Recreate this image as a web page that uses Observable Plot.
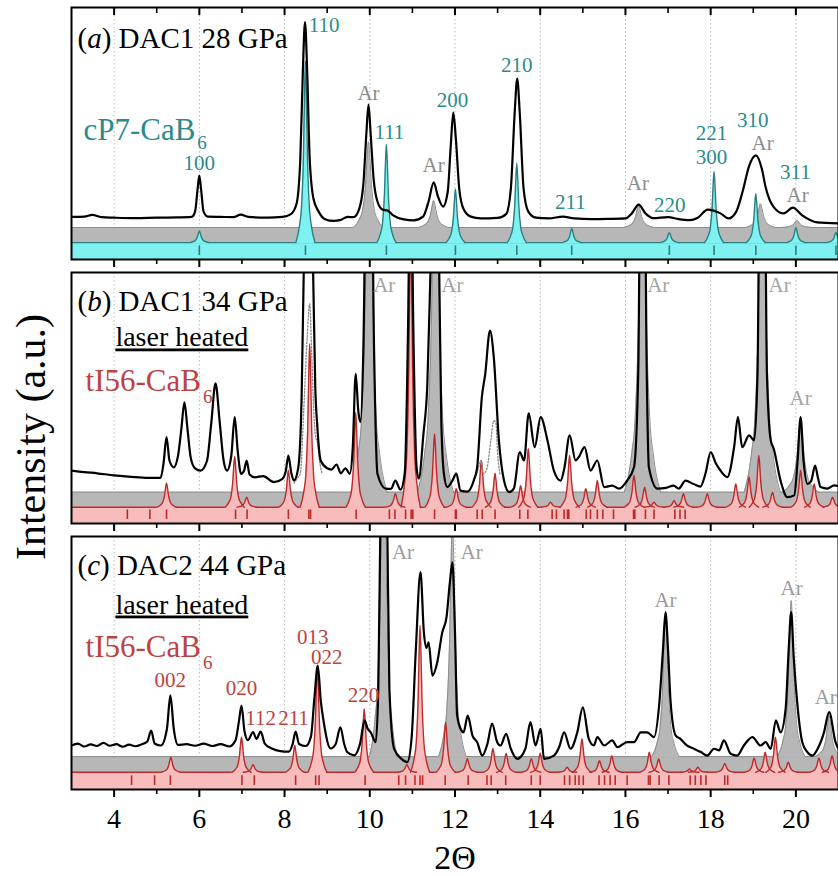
<!DOCTYPE html>
<html>
<head>
<meta charset="utf-8">
<script src="https://cdn.jsdelivr.net/npm/d3@7"></script>
<script src="https://cdn.jsdelivr.net/npm/@observablehq/plot@0.6"></script>
<style>
  html, body { margin: 0; padding: 0; background: #fff; }
  #chart { position: relative; width: 838px; height: 877px; overflow: hidden;
           font-family: "Liberation Serif", "Times New Roman", serif; }
  #chart svg { position: absolute; left: 0; }
  .ylab { position: absolute; left: 31px; top: 437px; width: 420px; text-align: center;
          font-size: 42px; line-height: 1; white-space: nowrap;
          transform: translate(-50%, -50%) rotate(-90deg); }
  .xlab { position: absolute; left: 455px; top: 858px; font-size: 34px; line-height: 1;
          transform: translate(-50%, -50%); white-space: nowrap; }
</style>
</head>
<body>
<div id="chart">
  <div class="ylab">Intensity (a.u.)</div>
  <div class="xlab">2Θ</div>
</div>
<script>
// ---- axis ticks (2Θ, degrees) ----
const majorTicks = [4, 6, 8, 10, 12, 14, 16, 18, 20];
const minorTicks = [5, 7, 9, 11, 13, 15, 17, 19];

// ---- measured patterns: [2Θ, intensity (a.u.)] ----
const observedA = [
  [3.0,16.9],[3.3,17.0],[3.49,17.7],[3.7,16.8],[4.0,16.6],[4.5,16.4],[5.0,16.6],[5.5,16.7],[5.82,16.9],
  [5.9,19],[5.96,28],[6.0,33.3],[6.04,28],[6.1,19],[6.2,17.0],[6.5,16.9],[6.8,16.8],[6.97,17.8],[7.15,16.9],[7.6,16.6],[7.95,16.9],
  [8.15,18],[8.28,22],[8.37,40],[8.43,75],[8.48,94.2],[8.53,75],[8.59,40],[8.68,24],[8.8,19],[8.95,16],[9.15,15.3],[9.3,15.6],[9.48,16.9],[9.62,16.8],
  [9.75,20],[9.85,30],[9.92,50],[9.97,61.5],[10.02,50],[10.09,32],[10.18,23],[10.3,19.8],[10.42,19.4],[10.55,17.5],[10.8,15.9],[11.03,15.5],
  [11.25,17],[11.38,23],[11.5,30.6],[11.6,25],[11.72,21],[11.83,27],[11.9,45],[11.96,58.3],[12.02,48],[12.1,28],[12.2,20],[12.37,17],[12.6,16.3],
  [13.0,16.5],[13.2,18],[13.31,28],[13.4,58],[13.46,71.8],[13.52,58],[13.61,28],[13.72,19],[13.9,16.6],[14.2,16.3],[14.53,17.0],[14.8,16.3],[15.2,16.0],[15.6,16.1],[16.0,16.3],
  [16.15,18.3],[16.31,21.8],[16.47,18.3],[16.65,16.4],[17.0,16.8],[17.25,16.0],[17.5,15.6],[17.7,16.6],[17.93,19.8],[18.23,18.3],[18.42,16.3],
  [18.6,19],[18.75,27],[18.9,37],[19.06,41.3],[19.2,36],[19.29,28.7],[19.48,20.8],[19.71,18.3],[19.93,20.6],[20.15,17.5],[20.5,14.7],[21.0,14.3]
];
const observedB = [
  [3.0,21.1],[3.3,20.5],[3.6,20.0],[4.0,19.2],[4.4,18.6],[4.8,18.2],[5.09,18.2],[5.16,24],[5.23,34.4],[5.3,25],[5.4,22.4],[5.5,27],[5.58,38],[5.65,48.3],[5.72,38],[5.8,26],[5.9,22],[6.03,21.1],
  [6.18,25],[6.28,40],[6.38,55.8],[6.48,40],[6.57,25],[6.65,21.1],[6.75,27],[6.83,42.4],[6.9,29],[6.98,19.8],[7.05,21],[7.11,25.1],[7.18,19.5],[7.3,18.4],[7.5,18.9],[7.75,16.5],[7.95,17.8],
  [8.03,21],[8.09,27.1],[8.16,20],[8.22,17.1],[8.32,22],[8.4,50],[8.46,110],[8.56,160],[8.66,110],[8.72,55],[8.77,38.4],[8.85,25],[9.0,22],[9.1,21.5],[9.22,23.5],[9.32,20],[9.43,22],[9.53,19.8],
  [9.6,30],[9.67,59.6],[9.73,45],[9.78,40.4],[9.85,70],[9.93,160],[10.03,160],[10.1,70],[10.18,19.8],[10.37,13.9],[10.5,13.8],[10.6,17.1],[10.72,13.5],
  [10.82,20],[10.9,80],[10.96,160],[11.02,80],[11.1,22],[11.15,17.9],[11.26,35.8],[11.35,55],[11.44,110],[11.54,160],[11.63,100],[11.68,40],[11.74,19.8],[11.82,14.5],[11.94,17.1],[12.03,19.9],
  [12.13,13.1],[12.29,12.7],[12.44,17.1],[12.52,22.4],[12.63,50.3],[12.71,59.6],[12.82,76.9],[12.91,66.3],[13.03,33.1],[13.15,17.1],[13.27,12.5],[13.38,13.9],[13.52,28.4],[13.62,25.1],[13.73,43.9],
  [13.87,30.4],[14.01,42.4],[14.17,33.1],[14.32,21.1],[14.48,17.1],[14.57,22.4],[14.69,35.1],[14.83,25.1],[14.91,26.6],[15.04,30.4],[15.18,21.1],[15.34,25.1],[15.5,14.5],[15.69,15.1],[15.85,13.9],
  [16.04,17.1],[16.2,22.4],[16.3,60],[16.36,160],[16.44,160],[16.5,60],[16.55,22.4],[16.75,13.9],[16.95,14.2],[17.13,15.1],[17.25,13.9],[17.41,17.1],[17.6,15.7],[17.76,14.7],[17.88,20],[18.0,28.4],
  [18.12,24],[18.23,21.1],[18.39,18.5],[18.55,30.4],[18.64,42.4],[18.74,30.4],[18.9,35.1],[19.02,33.1],[19.1,60],[19.16,160],[19.26,160],[19.32,60],[19.41,33.1],[19.48,29.8],[19.64,17.1],
  [19.8,10.5],[19.96,11.2],[20.04,25],[20.11,42.4],[20.18,25],[20.27,15.8],[20.36,17],[20.45,23.1],[20.52,18],[20.58,14.5],[20.74,13.9],[20.9,15.2],[21.0,14.9]
];
// second measured trace, shown dotted where it departs from the main one
const dottedB1 = [[8.22,16],[8.3,18],[8.37,20],[8.45,45],[8.53,74],[8.59,87.5],[8.64,66],[8.7,40],[8.73,34.4],[8.77,32.4],[8.82,25],[8.88,19.8]];
const dottedB2 = [[12.45,17.5],[12.53,21],[12.61,25.1],[12.67,19.8],[12.75,22],[12.84,33],[12.91,41],[12.96,40],[13.0,28],[13.05,19.8]];
const observedC = [
  [3.0,17.4],[3.15,18.1],[3.3,17.0],[3.45,17.8],[3.6,17.2],[3.75,18.4],[3.9,17.3],[4.05,17.9],[4.2,16.9],[4.35,17.7],[4.5,17.1],[4.65,17.9],[4.78,19],[4.87,23.3],[4.95,18.2],[5.1,17.4],
  [5.24,24],[5.32,37.2],[5.4,24],[5.5,17.6],[5.7,17.9],[5.9,17.3],[6.1,18.1],[6.3,17.2],[6.5,17.9],[6.7,17.0],[6.85,19.5],[6.93,27],[6.99,33.2],[7.06,23],[7.14,19.5],[7.26,22.7],[7.34,20],[7.44,22.9],
  [7.54,18],[7.7,16.2],[7.9,15.2],[8.1,15.0],[8.19,18],[8.26,22.9],[8.34,18],[8.5,17.2],[8.62,21],[8.7,36],[8.78,49],[8.85,35],[8.92,26.6],[9.08,16.2],[9.2,18],[9.31,24.6],[9.4,18],[9.47,14.8],
  [9.63,13.5],[9.77,18],[9.88,27.3],[9.95,24],[10.02,22.7],[10.14,18.7],[10.2,40],[10.26,120],[10.34,160],[10.4,120],[10.46,40],[10.57,16.2],[10.75,12],[10.88,10.8],[10.98,20],[11.08,55],
  [11.19,85.9],[11.27,62],[11.33,56],[11.38,58.2],[11.47,45],[11.58,50],[11.7,62],[11.8,68],[11.88,82],[11.94,89.8],[12.0,62],[12.05,29.2],[12.13,24],[12.2,22.6],[12.3,29.2],[12.41,21.3],
  [12.52,18.7],[12.64,13.4],[12.76,18],[12.87,26],[12.99,18.7],[13.07,17.4],[13.2,22],[13.31,16.1],[13.46,12.1],[13.65,16],[13.77,26.6],[13.89,17.4],[14.01,24],[14.09,12.1],[14.32,13.4],
  [14.45,17],[14.56,22.6],[14.71,16.1],[14.87,22.6],[15.0,32.5],[15.14,20],[15.26,17.4],[15.34,20.7],[15.5,17.4],[15.69,19.4],[15.81,16.7],[16.04,18.7],[16.2,18.7],[16.36,22.6],[16.51,22.6],
  [16.67,20.7],[16.79,33.2],[16.88,55],[16.94,70.1],[17.0,55],[17.06,34.5],[17.18,21.3],[17.29,20],[17.44,17.4],[17.61,16.1],[17.77,14.8],[17.92,13.4],[18.08,16.1],[18.2,15.5],[18.31,19.4],
  [18.47,14.1],[18.62,13.4],[18.78,17.4],[18.98,20.7],[19.17,17.4],[19.29,18.7],[19.41,16.1],[19.53,27.3],[19.64,22.6],[19.76,32],[19.83,55],[19.89,70.1],[19.95,52],[20.03,34.5],[20.15,18.7],
  [20.27,14.8],[20.39,13.4],[20.51,16.1],[20.66,22.6],[20.78,30.6],[20.93,18.7],[21.0,16]
];

// ---- calculated patterns: [2Θ, peak height above its baseline] ----
const cP7PeaksA = [[6.0,4.6],[8.49,72],[10.39,39],[12.01,21.2],[13.45,31.5],[14.74,5.6],[17.03,4],[18.08,28.2],[19.06,19.4],[20.0,6],[20.94,4]];
const argonPeaksA = [[9.97,34],[11.5,10.7],[16.31,8.7],[19.17,9.4],[20.03,2.8]];
const tI56PeaksB = [[5.23,9.6],[6.83,20.2],[7.11,4],[8.09,14.6],[8.59,65],[9.67,37.8],[10.6,5.4],[10.96,110],[11.52,29.3],[12.03,7.4],[12.62,18.6],[12.94,13.4],
  [13.54,8.6],[13.72,23.3],[14.24,2],[14.69,20.6],[15.07,7.4],[15.34,10.6],[16.2,12.6],[16.45,8],[16.67,2],[17.14,2.6],[17.36,5.4],[17.92,5.4],[18.59,9.3],[18.9,12],
  [19.13,20.6],[19.45,6],[20.11,14.6],[20.43,9.3],[20.86,4]];
const argonPeaksB = [[9.98,150],[11.54,150],[16.4,150],[19.21,150],[20.11,28.5]];
const tI56PeaksC = [[5.33,6],[6.99,13.9],[7.26,3],[8.24,10.6],[8.77,42],[9.87,25],[10.87,3],[11.18,58],[11.78,19.8],[12.29,5.4],[12.89,9.4],[13.2,7.4],[13.79,5.4],
  [14.0,7.4],[14.63,2],[14.98,13.2],[15.39,4.6],[15.68,6.6],[16.56,7.9],[16.78,5.3],[17.5,1.3],[17.7,2],[18.33,3.5],[19.02,5.7],[19.28,7.9],[19.52,13.9],[19.82,4],[20.54,5.7],[20.85,6.6]];
const argonPeaksC = [[10.32,150],[11.94,95],[16.94,56],[19.89,61.7],[20.78,16.2]];

// ---- reflection positions (2Θ) ----
const cP7ReflA = [6.0, 8.49, 10.39, 12.01, 13.45, 14.74, 17.03, 18.08, 19.06, 20.0, 20.94];
const tI56ReflB = [4.31, 4.84, 5.23, 6.85, 7.12, 8.09, 8.57, 8.61, 9.68, 10.46, 10.59, 10.84, 10.97, 11.01, 11.52, 12.01,
  12.03, 12.52, 12.64, 12.94, 13.52, 13.71, 14.28, 14.38, 14.56, 14.64, 14.67, 15.08, 15.18, 15.34, 15.47, 15.72, 16.19, 16.22, 16.47, 16.67, 17.16, 17.28, 17.4];
const tI56ReflC = [4.41, 4.95, 5.32, 7.0, 7.29, 8.26, 8.73, 8.81, 9.89, 10.68, 10.84, 11.06, 11.18, 11.24, 11.77, 12.31, 12.75, 12.85, 13.19,
  13.79, 14.0, 14.57, 14.69, 14.82, 14.91, 15.01, 15.38, 15.51, 15.64, 15.76, 16.04, 16.54, 16.58, 16.79, 17.02, 17.52, 17.64, 17.77, 17.89, 18.33, 18.4];

// ---- annotations ----
const hklA = [
  {text: "100", x: 6.0, y: 38.1}, {text: "110", x: 8.93, y: 92.9}, {text: "111", x: 10.46, y: 50.4},
  {text: "200", x: 11.94, y: 63.1}, {text: "210", x: 13.45, y: 77.0}, {text: "211", x: 14.71, y: 22.6},
  {text: "220", x: 17.04, y: 21.4}, {text: "221", x: 18.02, y: 49.9}, {text: "300", x: 18.02, y: 40.4},
  {text: "310", x: 18.99, y: 55.2}, {text: "311", x: 19.99, y: 34.5}
];
const hklC = [
  {text: "002", x: 5.32, y: 43.1}, {text: "020", x: 6.99, y: 39.9}, {text: "112", x: 7.44, y: 28.1},
  {text: "211", x: 8.21, y: 28.1}, {text: "013", x: 8.66, y: 60.1}, {text: "022", x: 8.99, y: 52.2},
  {text: "220", x: 9.85, y: 37.2}
];
const argonLabelsA = [{x: 9.97, y: 65.9}, {x: 11.5, y: 37.3}, {x: 16.29, y: 30.2}, {x: 19.22, y: 46.0}, {x: 20.04, y: 25.4}];
const argonLabelsB = [{x: 10.34, y: 94.8}, {x: 11.94, y: 94.8}, {x: 16.77, y: 94.8}, {x: 19.62, y: 94.8}, {x: 20.11, y: 49.8}];
const argonLabelsC = [{x: 10.78, y: 93.7}, {x: 12.39, y: 93.7}, {x: 16.94, y: 74.7}, {x: 19.9, y: 79.4}, {x: 20.7, y: 36.4}];

// ---- styling ----
const SERIF = "'Liberation Serif', 'Times New Roman', serif";
const GRAY_FILL = "#b7b7b7", GRAY_LINE = "#8d8d8d";
const CYAN_FILL = "#80f1f1", TEAL = "#2b7f80", TEAL_TEXT = "#2b8b8b";
const PINK_FILL = "#f8bcbc", RED = "#bb2a2a", RED_TEXT = "#bd4341";
// pseudo-Lorentzian outline used to draw each calculated reflection (offset in half-widths, fraction of height)
const PROFILE = [[-5,0],[-3,0.1],[-2,0.2],[-1,0.5],[-0.5,0.8],[0,1],[0.5,0.8],[1,0.5],[2,0.2],[3,0.1],[5,0]];

function profileRows(peaks, base, hw) {
  const rows = [];
  peaks.forEach(([pos, h], i) => {
    for (const [o, f] of PROFILE) rows.push({id: i, x: pos + o * hw, y1: base - 0.5, y2: base + h * f});
  });
  return rows;
}
const toRows = (arr, id = 0) => arr.map(([x, y]) => ({x, y, id}));

function drawPanel(o) {
  const unit = o.frameH / 100;            // pixels per intensity unit
  const ar = profileRows(o.argon, o.argonBase, o.argonHW);
  const calc = profileRows(o.calc, o.calcBase, o.calcHW);
  const band = [3, 21];
  const marks = [
    Plot.ruleX(majorTicks, {stroke: "#b9b9b9", strokeWidth: 1, strokeDasharray: "1.5,2.5"}),
    // argon reference pattern
    Plot.areaY(band, {x: d => d, y1: 0, y2: o.argonBase, fill: GRAY_FILL}),
    Plot.ruleY([o.argonBase], {stroke: GRAY_LINE, strokeWidth: 1}),
    Plot.areaY(ar, {x: "x", y1: "y1", y2: "y2", z: "id", fill: GRAY_FILL, curve: "monotone-x", clip: true}),
    Plot.line(ar, {x: "x", y: "y2", z: "id", stroke: GRAY_LINE, strokeWidth: 1, curve: "monotone-x", clip: true}),
    // calculated CaB6 pattern
    Plot.areaY(band, {x: d => d, y1: 0, y2: o.calcBase, fill: o.calcFill}),
    Plot.ruleY([o.calcBase], {stroke: o.calcStroke, strokeWidth: 1.4}),
    Plot.areaY(calc, {x: "x", y1: "y1", y2: "y2", z: "id", fill: o.calcFill, curve: "monotone-x", clip: true}),
    Plot.line(calc, {x: "x", y: "y2", z: "id", stroke: o.calcStroke, strokeWidth: 1.4, curve: "monotone-x", clip: true}),
    Plot.ruleX(o.refl, {x: d => d, y1: 1.6, y2: 5.4, stroke: o.calcStroke, strokeWidth: 1.6}),
  ];
  if (o.dotted) {
    marks.push(Plot.line(o.dotted, {x: "x", y: "y", z: "id", stroke: "#8a8a8a", strokeWidth: 1.3,
      strokeDasharray: "1.5,1.8", curve: "monotone-x", clip: true}));
  }
  marks.push(
    Plot.line(toRows(o.observed), {x: "x", y: "y", stroke: "black", strokeWidth: 2.2, curve: "monotone-x", clip: true}),
    Plot.text(o.argonLabels, {x: "x", y: "y", text: () => "Ar", fill: o.argonText, fontSize: 21, lineAnchor: "middle"}),
    Plot.text([o.title], {x: 3.14, y: o.titleY, text: d => d, textAnchor: "start", lineAnchor: "middle",
      fontSize: 29, fill: "black"}),
    Plot.text([o.phase], {x: o.phaseX, y: o.phaseY, text: d => d, textAnchor: "start", lineAnchor: "middle",
      fontSize: 31, fill: o.phaseColor}),
    Plot.frame({stroke: "black", strokeWidth: 2}),
    Plot.ruleX(majorTicks, {y1: 0, y2: -8 / unit, stroke: "black", strokeWidth: 2}),
    Plot.ruleX(minorTicks, {y1: 0, y2: -5 / unit, stroke: "black", strokeWidth: 1.6})
  );
  if (o.hkl) marks.push(Plot.text(o.hkl, {x: "x", y: "y", text: "text", fill: o.hklColor, fontSize: 21, lineAnchor: "middle"}));
  if (o.note) marks.push(Plot.text([o.note], {x: 4.03, y: o.noteY, text: d => d, textAnchor: "start",
    lineAnchor: "middle", fontSize: 28, fill: "black"}));
  if (o.topTicks) marks.push(
    Plot.ruleX(majorTicks, {y1: 100, y2: 100 - 8 / unit, stroke: "black", strokeWidth: 2}),
    Plot.ruleX(minorTicks, {y1: 100, y2: 100 - 6 / unit, stroke: "black", strokeWidth: 1.6})
  );

  const svg = Plot.plot({
    width: 838,
    height: o.marginTop + o.frameH + o.marginBottom,
    marginLeft: 71, marginRight: 0, marginTop: o.marginTop, marginBottom: o.marginBottom,
    x: o.showAxis
      ? {domain: [3, 21], ticks: majorTicks, tickSize: 0, tickPadding: 19, tickFormat: d => String(d), label: null}
      : {domain: [3, 21], axis: null},
    y: {domain: [0, 100], axis: null},
    style: {fontFamily: SERIF, fontSize: "28px", background: "transparent", overflow: "visible", color: "black"},
    marks
  });
  svg.style.top = o.top + "px";
  enrich(svg, o);
  return svg;
}

// italic panel letter, subscript formula digit, underlined note
function enrich(svg, o) {
  d3.select(svg).selectAll("text").each(function () {
    const s = this.textContent;
    const t = d3.select(this);
    let m;
    if (s === o.title && (m = s.match(/^\((.)\)(.*)$/))) {
      t.text(null);
      t.append("tspan").text("(");
      t.append("tspan").attr("font-style", "italic").text(m[1]);
      t.append("tspan").text(")" + m[2]);
    } else if (s === o.phase && (m = s.match(/^(.*?)(\d)$/))) {
      t.text(null);
      t.append("tspan").text(m[1]);
      t.append("tspan").attr("dx", 2).attr("dy", o.subDy).attr("font-size", 19).text(m[2]);
    } else if (o.note && s === o.note) {
      t.style("text-decoration", "underline");
    }
  });
}

const chart = document.getElementById("chart");
chart.append(drawPanel({
  top: 0, marginTop: 7, frameH: 252, marginBottom: 10, topTicks: true,
  observed: observedA,
  argon: argonPeaksA, argonBase: 12.7, argonHW: 0.07,
  calc: cP7PeaksA, calcBase: 6.7, calcHW: 0.045, calcFill: CYAN_FILL, calcStroke: TEAL, refl: cP7ReflA,
  hkl: hklA, hklColor: TEAL_TEXT, argonLabels: argonLabelsA, argonText: "#8b8b8b",
  title: "(a) DAC1 28 GPa", titleY: 87.7,
  phase: "cP7-CaB6", phaseX: 3.28, phaseY: 51.5, phaseColor: TEAL_TEXT, subDy: 9
}));
chart.append(drawPanel({
  top: 269, marginTop: 3, frameH: 251, marginBottom: 10,
  observed: observedB, dotted: [...toRows(dottedB1, 0), ...toRows(dottedB2, 1)],
  argon: argonPeaksB, argonBase: 12.5, argonHW: 0.085,
  calc: tI56PeaksB, calcBase: 6.5, calcHW: 0.045, calcFill: PINK_FILL, calcStroke: RED, refl: tI56ReflB,
  argonLabels: argonLabelsB, argonText: "#a3a3a3",
  title: "(b) DAC1 34 GPa", titleY: 88.4, note: "laser heated", noteY: 74.1,
  phase: "tI56-CaB6", phaseX: 3.33, phaseY: 56.6, phaseColor: RED_TEXT, subDy: 12
}));
chart.append(drawPanel({
  top: 533, marginTop: 3, frameH: 253, marginBottom: 88, showAxis: true,
  observed: observedC,
  argon: argonPeaksC, argonBase: 13.0, argonHW: 0.065,
  calc: tI56PeaksC, calcBase: 6.8, calcHW: 0.045, calcFill: PINK_FILL, calcStroke: RED, refl: tI56ReflC,
  hkl: hklC, hklColor: RED_TEXT, argonLabels: argonLabelsC, argonText: "#9a9a9a",
  title: "(c) DAC2 44 GPa", titleY: 88.5, note: "laser heated", noteY: 73.1,
  phase: "tI56-CaB6", phaseX: 3.33, phaseY: 56.1, phaseColor: RED_TEXT, subDy: 12
}));
</script>
</body>
</html>
